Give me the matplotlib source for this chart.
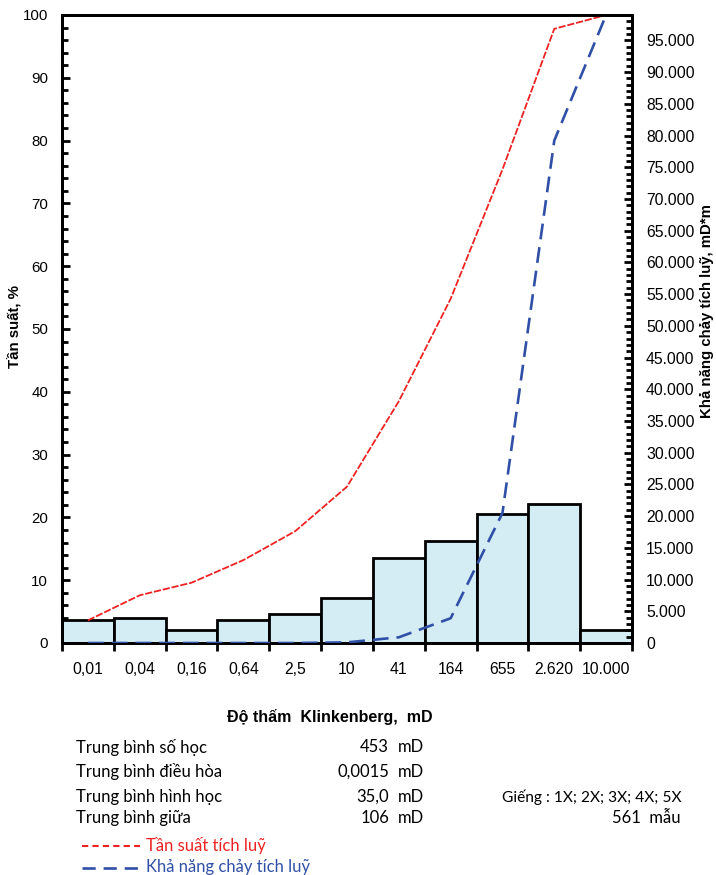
import matplotlib
matplotlib.use('Agg')
import matplotlib.pyplot as plt
from matplotlib.lines import Line2D
from matplotlib.ticker import FuncFormatter, MultipleLocator

# Permeability classes (mD) and values
bins = ['0,01', '0,04', '0,16', '0,64', '2,5', '10', '41', '164', '655', '2.620', '10.000']
freq = [3.6, 4.0, 2.0, 3.6, 4.6, 7.1, 13.6, 16.3, 20.6, 22.2, 2.0]
cum_freq = [3.6, 7.6, 9.6, 13.2, 17.8, 24.9, 38.5, 54.8, 75.4, 97.8, 100.0]
cum_flow = [0, 0, 0, 0, 0, 100, 900, 3900, 20500, 79200, 99000]

stat_names = ['Trung bình số học', 'Trung bình điều hòa', 'Trung bình hình học', 'Trung bình giữa']
stat_values = ['453', '0,0015', '35,0', '106']

plt.rcParams['font.family'] = ['Liberation Sans', 'DejaVu Sans']

fig = plt.figure(figsize=(7.16, 8.75), dpi=100)
ax = fig.add_axes([62 / 716, 1 - 643 / 875, 570 / 716, 628 / 875])
x = list(range(len(bins)))

ax.bar(x, freq, width=1.0, color='#d4ecf3', edgecolor='black', linewidth=2, zorder=2)
ax.plot(x, cum_freq, color='#ee2222', linewidth=1.3, linestyle=(0, (4, 1)), zorder=3)

ax.set_xlim(-0.5, len(bins) - 0.5)
ax.set_ylim(0, 100)
ax.set_xticks(x)
ax.set_xticklabels(bins, fontsize=11.3)
ax.set_xticks([i - 0.5 for i in range(len(bins) + 1)], minor=True)
ax.tick_params(axis='x', which='major', length=0, pad=14)
ax.tick_params(axis='x', which='minor', length=6, width=2, direction='out')
ax.yaxis.set_major_locator(MultipleLocator(10))
ax.yaxis.set_minor_locator(MultipleLocator(2))
ax.tick_params(axis='y', which='major', direction='in', length=6, width=2, labelsize=10.8, pad=10)
ax.tick_params(axis='y', which='minor', direction='in', length=4, width=2)
for s in ax.spines.values():
    s.set_linewidth(2)

ax2 = ax.twinx()
ax2.plot(x, cum_flow, color='#3050a8', linewidth=1.9, linestyle=(0, (6, 3)), zorder=3)
ax2.set_ylim(0, 99000)
ax2.yaxis.set_major_locator(MultipleLocator(5000))
ax2.yaxis.set_minor_locator(MultipleLocator(1000))
ax2.yaxis.set_major_formatter(FuncFormatter(lambda v, p: f'{int(v):,}'.replace(',', '.')))
ax2.tick_params(axis='y', which='major', direction='in', length=6, width=2, labelsize=11.3, pad=10)
ax2.tick_params(axis='y', which='minor', direction='in', length=4, width=2)
for s in ax2.spines.values():
    s.set_linewidth(2)

fig.text(15 / 716, 1 - 326 / 875, 'Tần suất, %', rotation=90, ha='center', va='center',
         fontsize=10.8, fontweight='bold')
fig.text(707 / 716, 1 - 311 / 875, 'Khả năng chảy tích luỹ, mD*m', rotation=90, ha='center',
         va='center', fontsize=10.8, fontweight='bold')
fig.text(330 / 716, 1 - 717 / 875, 'Độ thấm  Klinkenberg,  mD', ha='center', va='center',
         fontsize=11.5, fontweight='bold')

# statistics block
stat_font = ['Lato', 'DejaVu Sans']
fs = 12
rows_y = [747, 772, 797, 818]
for name, val, yy in zip(stat_names, stat_values, rows_y):
    fig.text(76 / 716, 1 - yy / 875, name, ha='left', va='center', fontsize=fs, family=stat_font)
    fig.text(389 / 716, 1 - yy / 875, val, ha='right', va='center', fontsize=fs, family=stat_font)
    fig.text(398 / 716, 1 - yy / 875, 'mD', ha='left', va='center', fontsize=fs, family=stat_font)
fig.text(681 / 716, 1 - 797 / 875, 'Giếng : 1X; 2X; 3X; 4X; 5X', ha='right', va='center',
         fontsize=11.2, family=stat_font)
fig.text(681 / 716, 1 - 818 / 875, '561  mẫu', ha='right', va='center', fontsize=fs, family=stat_font)

# legend
fig.add_artist(Line2D([82 / 716, 140 / 716], [1 - 846 / 875] * 2, color='#ee2222',
                      linewidth=1.5, linestyle=(0, (3, 2))))
fig.text(146 / 716, 1 - 845 / 875, 'Tần suất tích luỹ', ha='left', va='center', fontsize=fs,
         color='#ee2222', family=stat_font)
fig.add_artist(Line2D([82 / 716, 140 / 716], [1 - 868 / 875] * 2, color='#3050a8',
                      linewidth=1.9, linestyle=(0, (5, 3))))
fig.text(146 / 716, 1 - 867 / 875, 'Khả năng chảy tích luỹ', ha='left', va='center', fontsize=fs,
         color='#3050a8', family=stat_font)

fig.savefig('out.png', dpi=100)
